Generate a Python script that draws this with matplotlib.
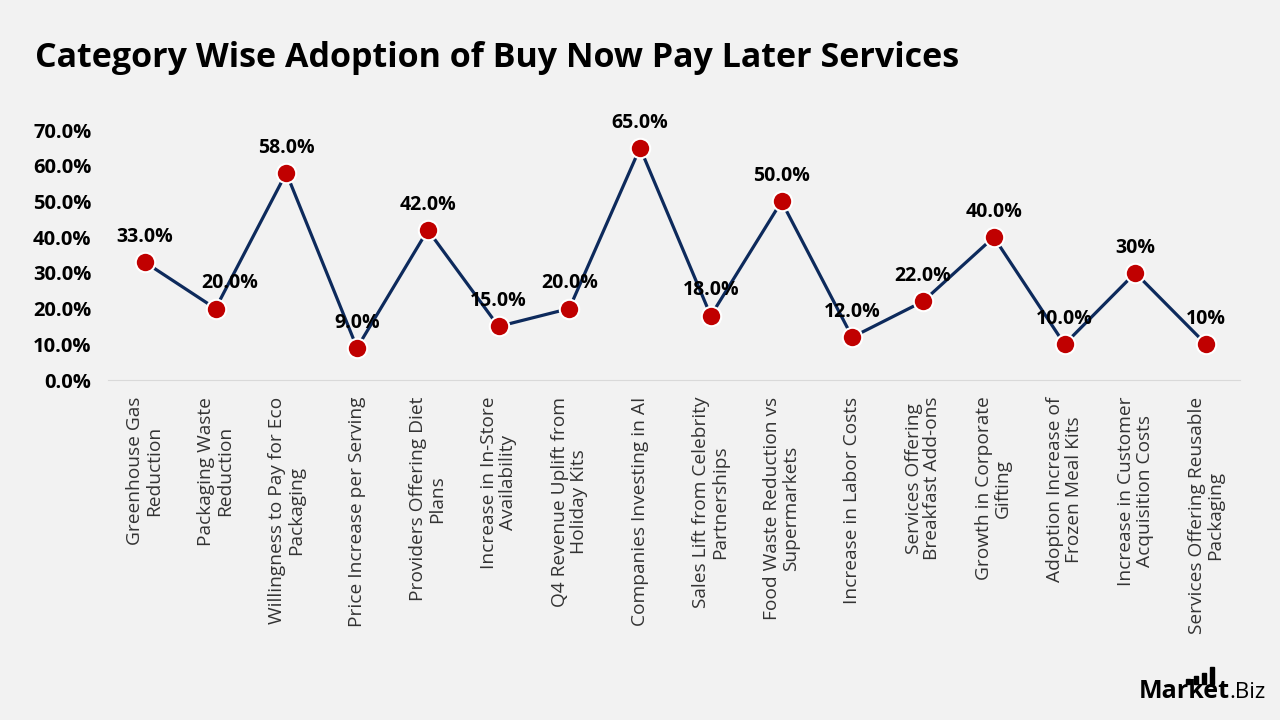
import matplotlib
matplotlib.use("Agg")
import matplotlib.pyplot as plt
from matplotlib.patches import Rectangle

categories = [
    "Greenhouse Gas\nReduction",
    "Packaging Waste\nReduction",
    "Willingness to Pay for Eco\nPackaging",
    "Price Increase per Serving",
    "Providers Offering Diet\nPlans",
    "Increase in In-Store\nAvailability",
    "Q4 Revenue Uplift from\nHoliday Kits",
    "Companies Investing in AI",
    "Sales Lift from Celebrity\nPartnerships",
    "Food Waste Reduction vs\nSupermarkets",
    "Increase in Labor Costs",
    "Services Offering\nBreakfast Add-ons",
    "Growth in Corporate\nGifting",
    "Adoption Increase of\nFrozen Meal Kits",
    "Increase in Customer\nAcquisition Costs",
    "Services Offering Reusable\nPackaging",
]
values = [33, 20, 58, 9, 42, 15, 20, 65, 18, 50, 12, 22, 40, 10, 30, 10]
value_labels = ["33.0%", "20.0%", "58.0%", "9.0%", "42.0%", "15.0%", "20.0%", "65.0%",
                "18.0%", "50.0%", "12.0%", "22.0%", "40.0%", "10.0%", "30%", "10%"]
yticks = [0, 10, 20, 30, 40, 50, 60, 70]

bg = "#f2f2f2"
plt.rcParams['font.family'] = ['Open Sans', 'DejaVu Sans']

fig = plt.figure(figsize=(12.8, 7.2), dpi=100, facecolor=bg)
ax = fig.add_axes([108 / 1280, 1 - 380 / 720, (1240 - 108) / 1280, 250 / 720])
ax.set_facecolor(bg)

x = list(range(len(values)))
ax.plot(x, values, color="#0d2a5c", lw=2.3, zorder=2, clip_on=False)
ax.plot(x, values, ls="none", marker="o", ms=14, mfc="#c00000", mec="white",
        mew=1.5, zorder=3, clip_on=False)

for i, (v, lab) in enumerate(zip(values, value_labels)):
    dx = 10 if i == 1 else 0
    ax.annotate(lab, (i, v), xytext=(dx, 11), textcoords="offset points",
                ha="center", va="bottom", fontsize=14, fontweight="bold", color="black")

ax.set_xlim(-0.52, 15.48)
ax.set_ylim(0, 70)
ax.set_yticks(yticks)
ax.set_yticklabels([f"{t:.1f}%" for t in yticks], fontsize=14.5, fontweight="bold")
ax.set_xticks(x)
ax.set_xticklabels(categories, rotation=90, fontsize=13.8, color="#333333",
                   ha="center", va="top", multialignment="center", linespacing=1.05)
ax.tick_params(axis="both", length=0)
ax.tick_params(axis="x", pad=12)
ax.tick_params(axis="y", pad=12)
for s in ["top", "right", "left"]:
    ax.spines[s].set_visible(False)
ax.spines["bottom"].set_color("#d9d9d9")

fig.text(35 / 1280, 1 - 58 / 720, "Category Wise Adoption of Buy Now Pay Later Services",
         fontsize=24.5, fontweight="bold", va="center", ha="left")

# logo
fig.text(1230 / 1280, 1 - 698 / 720, "Market", fontsize=18, fontweight="bold",
         va="baseline", ha="right")
fig.text(1229 / 1280, 1 - 698 / 720, ".Biz", fontsize=16, va="baseline", ha="left")
for bx, bh in [(1186, 5), (1194, 8), (1202, 11), (1210, 17)]:
    fig.add_artist(Rectangle((bx / 1280, 1 - 684 / 720), 3.5 / 1280, bh / 720,
                             transform=fig.transFigure, color="black"))

fig.savefig("out.png", dpi=100, facecolor=bg)
